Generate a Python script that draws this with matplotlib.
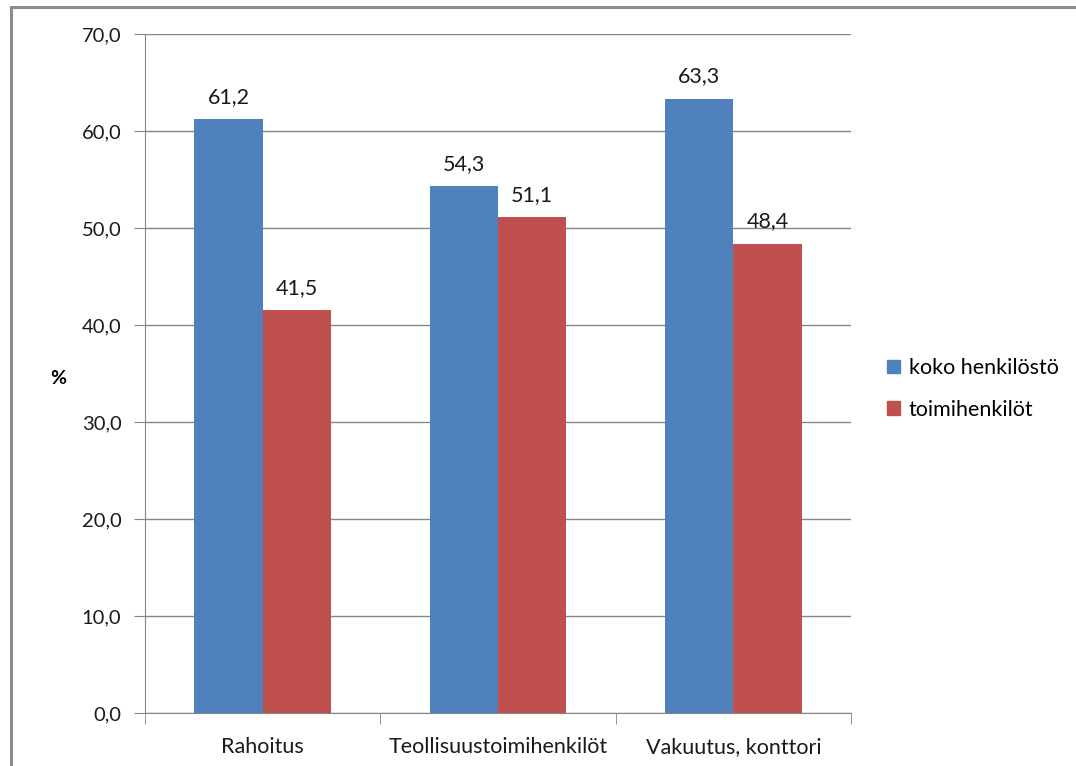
import matplotlib.pyplot as plt
from matplotlib.patches import Rectangle, Patch
import numpy as np

plt.rcParams['font.family'] = ['Lato', 'DejaVu Sans']

categories = ["Rahoitus", "Teollisuustoimihenkilöt", "Vakuutus, konttori"]
koko = [61.2, 54.3, 63.3]
toimi = [41.5, 51.1, 48.4]
series_names = ["koko henkilöstö", "toimihenkilöt"]
colors = ["#4F81BD", "#C0504D"]
grid_col = "#868686"

fig = plt.figure(figsize=(10.76, 7.66), dpi=100)
ax = fig.add_axes([145 / 1076, 53 / 766, 706 / 1076, 679 / 766])

# outer chart frame
fig.patches.append(Rectangle((11 / 1076, -0.05), 1.1, 0.05 + (766 - 7) / 766,
                             transform=fig.transFigure, fill=False,
                             edgecolor="#8c8c8c", linewidth=2.2))

x = np.arange(len(categories))
w = 0.29
b1 = ax.bar(x - w / 2, koko, w, color=colors[0], zorder=3)
b2 = ax.bar(x + w / 2, toimi, w, color=colors[1], zorder=3)

for bars, vals in ((b1, koko), (b2, toimi)):
    for r, v in zip(bars, vals):
        ax.annotate(f"{v:.1f}".replace(".", ","),
                    (r.get_x() + r.get_width() / 2, v),
                    xytext=(0, 9), textcoords="offset points",
                    ha="center", va="bottom", fontsize=15.5, color="#1a1a1a")

ax.set_xlim(-0.5, 2.5)
ax.set_ylim(0, 70)
ax.set_yticks(np.arange(0, 71, 10))
ax.set_yticklabels([f"{t:.1f}".replace(".", ",") for t in np.arange(0, 71, 10)])
ax.yaxis.grid(True, color=grid_col, linewidth=1, zorder=0)

ax.set_xticks(x)
ax.set_xticklabels(categories)
ax.set_xticks([-0.5, 0.5, 1.5, 2.5], minor=True)
ax.tick_params(axis="x", which="major", length=0, pad=17, labelsize=15.5, colors="#1a1a1a")
ax.tick_params(axis="x", which="minor", length=8, color=grid_col, direction="out")
ax.tick_params(axis="y", length=8, color=grid_col, pad=9, labelsize=14.5, labelcolor="#1a1a1a")

for s in ("top", "right"):
    ax.spines[s].set_visible(False)
for s in ("left", "bottom"):
    ax.spines[s].set_color(grid_col)

fig.text(58 / 1076, 1 - 378 / 766, "%", ha="center", va="center",
         fontsize=14, fontweight="bold")

handles = [Patch(color=c) for c in colors]
fig.legend(handles, series_names, loc="center left",
           bbox_to_anchor=(868 / 1076, 1 - 389 / 766), frameon=False,
           fontsize=15.5, handlelength=0.6, handleheight=0.6,
           handletextpad=0.4, labelspacing=1.0)

fig.savefig("out.png", dpi=100)
